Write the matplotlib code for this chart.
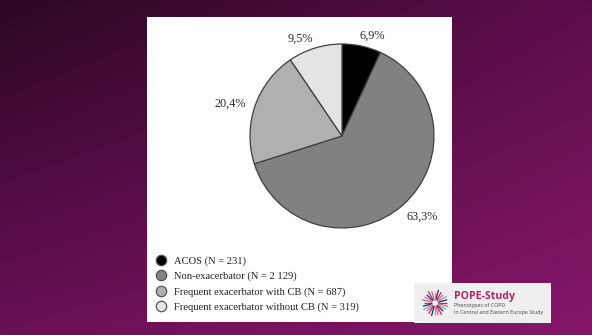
import numpy as np
import matplotlib
matplotlib.use("Agg")
import matplotlib.pyplot as plt
from matplotlib.lines import Line2D
from matplotlib.patches import Rectangle

# ---- data ----
categories = ["ACOS", "Non-exacerbator", "Frequent exacerbator with CB", "Frequent exacerbator without CB"]
counts = [231, 2129, 687, 319]
count_labels = ["231", "2 129", "687", "319"]
pct_labels = ["6,9%", "63,3%", "20,4%", "9,5%"]
colors = ["#000000", "#818181", "#b1afaf", "#e5e4e4"]

W, H = 592, 335
fig = plt.figure(figsize=(W / 100, H / 100), dpi=100)

# ---- background gradient ----
bg = fig.add_axes([0, 0, 1, 1])
bg.set_axis_off()
tl = np.array([0x2c, 0x07, 0x23]) / 255
tr = np.array([0x5c, 0x0e, 0x4a]) / 255
bl = np.array([0x6a, 0x10, 0x58]) / 255
br = np.array([0x86, 0x17, 0x6a]) / 255
yy, xx = np.mgrid[0:1:120j, 0:1:200j]
img = (tl[None, None, :] * ((1 - xx) * (1 - yy))[..., None]
       + tr[None, None, :] * (xx * (1 - yy))[..., None]
       + bl[None, None, :] * ((1 - xx) * yy)[..., None]
       + br[None, None, :] * (xx * yy)[..., None])
bg.imshow(img, extent=[0, 1, 0, 1], aspect="auto", origin="upper")
bg.set_xlim(0, 1)
bg.set_ylim(0, 1)

def fx(px):
    return px / W

def fy(py):
    return 1 - py / H

# white panel
bg.add_patch(Rectangle((fx(147), fy(322)), fx(452) - fx(147), fy(17) - fy(322),
                       facecolor="white", edgecolor="none", zorder=2))

# ---- pie ----
cx, cy, r = 342, 136, 92
ax = fig.add_axes([fx(cx - r), fy(cy + r), 2 * r / W, 2 * r / H])
wedges, _ = ax.pie(counts, colors=colors, startangle=90, counterclock=False,
                   wedgeprops=dict(edgecolor="#404040", linewidth=0.9))
ax.set_xlim(-1, 1)
ax.set_ylim(-1, 1)
ax.set_aspect("equal")

serif = ["Liberation Serif", "DejaVu Serif"]
label_dist = [1.14, 1.24, 1.27, 1.15]
angle_nudge = [-4.5, 3.5, 3.0, 6.0]
for w, lab, d, nud in zip(wedges, pct_labels, label_dist, angle_nudge):
    ang = np.deg2rad((w.theta1 + w.theta2) / 2 + nud)
    ax.text(d * np.cos(ang), d * np.sin(ang), lab, ha="center", va="center",
            fontsize=8.8, family=serif, color="#2a2a2a")

# ---- legend ----
handles = [Line2D([0], [0], marker="o", linestyle="none", markersize=7.5,
                  markerfacecolor=c, markeredgecolor="#555555", markeredgewidth=0.9)
           for c in colors]
leg_labels = [f"{c} (N = {n})" for c, n in zip(categories, count_labels)]
leg = fig.legend(handles, leg_labels, loc="upper left",
                 bbox_to_anchor=(fx(156), fy(256)), frameon=False,
                 prop=dict(family=serif, size=7.6), handlelength=1.0,
                 handletextpad=0.75, labelspacing=0.56, borderpad=0, borderaxespad=0)
for t in leg.get_texts():
    t.set_color("#222222")

# ---- logo box ----
bg.add_patch(Rectangle((fx(414), fy(323)), fx(551) - fx(414), fy(283) - fy(323),
                       facecolor="#efefef", edgecolor="none", zorder=3))
icx, icy = 435, 303
ray_cols = ["#c0255f", "#1f2a5a", "#9a9aa8", "#e0608a"]
for i, a in enumerate(np.arange(0, 360, 15)):
    t = np.deg2rad(a)
    r0, r1 = 3.0, 11.5 + (i % 3) * 1.0
    bg.plot([fx(icx + r0 * np.cos(t)), fx(icx + r1 * np.cos(t))],
            [fy(icy - r0 * np.sin(t)), fy(icy - r1 * np.sin(t))],
            color=ray_cols[i % 4], lw=0.9, zorder=4, solid_capstyle="butt")
bg.text(fx(454), fy(296), "POPE-Study", fontsize=7.6, fontweight="bold",
        color="#b5245e", family="Open Sans", va="center", ha="left", zorder=5)
bg.text(fx(454), fy(305.5), "Phenotypes of COPD", fontsize=3.8,
        color="#444444", family="Open Sans", va="center", ha="left", zorder=5)
bg.text(fx(454), fy(312.5), "in Central and Eastern Europe Study", fontsize=3.8,
        color="#444444", family="Open Sans", va="center", ha="left", zorder=5)

fig.savefig("out.png", dpi=100)
